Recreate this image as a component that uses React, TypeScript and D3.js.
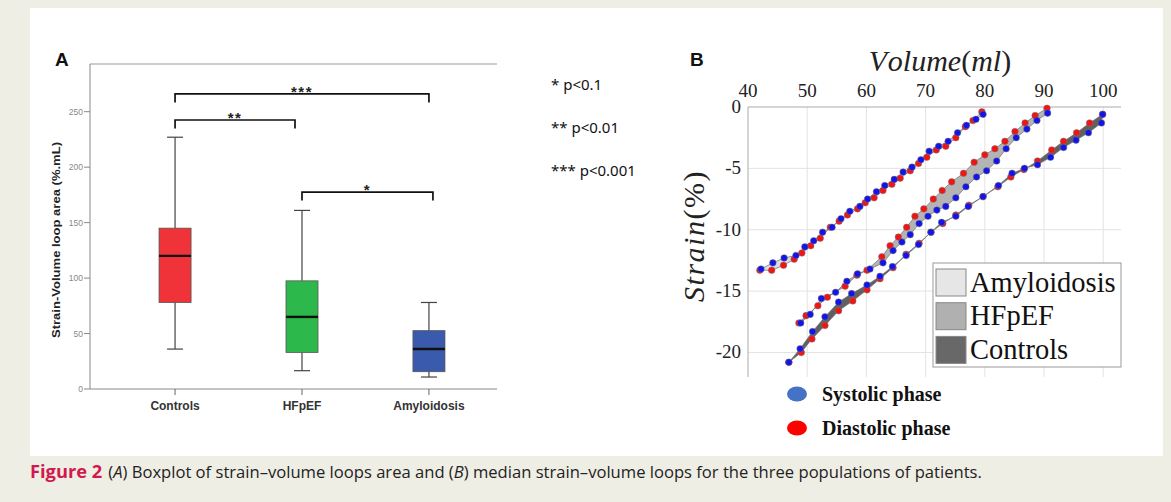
import React from 'react';
import * as d3 from 'd3';

// ---------- Panel A data ----------
const categories = ['Controls', 'HFpEF', 'Amyloidosis'];
const whiskerLow = [36, 16.5, 10.8];
const q1 = [78, 33, 15.6];
const medians = [120, 65, 36];
const q3 = [145, 97.5, 52.6];
const whiskerHigh = [227, 161, 78];
const boxColors = ['#ef3338', '#2db84b', '#3a5aad'];
const yTicksA = [0, 50, 100, 150, 200, 250];

const bracketFrom = ['Controls', 'Controls', 'HFpEF'];
const bracketTo = ['Amyloidosis', 'HFpEF', 'Amyloidosis'];
const bracketLevel = [266, 242.5, 177.5];
const bracketLabel = ['***', '**', '*'];
const bracketEndNudge = [0, -7, 4];
const pLegend = ['* p<0.1', '** p<0.01', '*** p<0.001'];

// ---------- Panel B data ----------
const volumeTicks = [40, 50, 60, 70, 80, 90, 100];
const strainTicks = [0, -5, -10, -15, -20];
const groups = ['Amyloidosis', 'HFpEF', 'Controls'];
const groupFills = ['#dedede', '#b4b4b4', '#606060'];
const legendFills = ['#e6e6e6', '#b0b0b0', '#686868'];

const amyloSysVol = [42.2, 44.2, 46.1, 48.1, 49.6, 51.1, 52.6, 54.2, 55.7, 57.2, 58.9, 60.2, 61.7, 63.1, 64.7, 66.2, 67.7, 69.2, 70.6, 72.2, 73.8, 75.4, 76.9, 78.5, 79.7];
const amyloSysStrain = [-13.2, -12.7, -12.3, -12.1, -11.4, -10.9, -10.2, -9.8, -9.1, -8.5, -8.1, -7.5, -6.9, -6.4, -5.9, -5.3, -4.9, -4.3, -3.6, -3.2, -2.8, -2.1, -1.5, -1.0, -0.6];
const amyloDiaVol = [42.0, 44.0, 46.0, 47.8, 49.1, 50.6, 52.2, 53.9, 55.4, 56.8, 58.5, 59.8, 61.3, 62.8, 64.3, 65.7, 67.4, 68.8, 70.2, 71.8, 73.4, 75.1, 76.7, 78.0, 79.5];
const amyloDiaStrain = [-13.3, -13.3, -12.9, -12.4, -11.9, -11.3, -10.7, -9.8, -9.3, -8.8, -8.3, -7.8, -7.4, -6.8, -6.3, -5.8, -5.2, -4.6, -4.1, -3.5, -3.2, -2.5, -1.6, -1.1, -0.4];

const hfSysVol = [48.9, 50.5, 52.4, 54.8, 56.7, 58.5, 60.6, 62.8, 64.5, 66.0, 67.4, 68.9, 70.4, 71.9, 73.4, 75.1, 76.8, 78.6, 80.3, 82.0, 83.6, 85.3, 87.1, 88.8, 90.6];
const hfSysStrain = [-17.6, -16.9, -15.6, -15.1, -14.2, -13.6, -13.2, -12.7, -11.7, -11.0, -10.4, -9.5, -8.9, -8.4, -8.1, -7.4, -6.5, -5.7, -5.2, -4.4, -3.4, -2.5, -1.8, -1.1, -0.5];
const hfDiaVol = [48.6, 49.8, 51.8, 53.4, 56.4, 58.4, 60.1, 62.6, 64.0, 65.4, 66.8, 68.2, 69.7, 71.3, 72.8, 74.4, 76.4, 78.2, 80.0, 81.7, 83.4, 85.1, 86.8, 88.5, 90.5];
const hfDiaStrain = [-17.6, -17.0, -16.2, -15.5, -14.6, -13.7, -13.3, -12.2, -11.3, -10.6, -9.8, -8.9, -8.3, -7.5, -6.8, -6.1, -5.4, -4.5, -3.9, -3.4, -2.8, -2.0, -1.3, -0.7, -0.1];

const ctrlSysVol = [46.9, 48.8, 50.9, 53.0, 55.3, 57.5, 60.1, 62.3, 64.4, 66.7, 68.8, 70.9, 72.7, 75.1, 77.2, 79.7, 82.3, 84.6, 86.7, 88.9, 91.1, 93.3, 95.4, 97.5, 99.7, 99.9];
const ctrlSysStrain = [-20.8, -19.7, -18.3, -17.1, -15.9, -15.2, -14.5, -13.8, -13.0, -12.1, -11.2, -10.2, -9.4, -8.9, -8.1, -7.3, -6.4, -5.4, -5.0, -4.7, -4.1, -3.3, -2.7, -2.1, -1.3, -0.6];
const ctrlDiaVol = [46.9, 49.0, 50.8, 53.0, 55.3, 57.7, 60.1, 62.3, 64.5, 66.7, 68.9, 70.9, 72.9, 75.1, 77.3, 79.7, 82.2, 84.4, 86.6, 88.9, 91.3, 93.3, 95.5, 97.7, 99.9];
const ctrlDiaStrain = [-20.8, -20.0, -18.9, -17.8, -16.6, -15.8, -14.9, -14.0, -13.1, -12.0, -11.1, -10.2, -9.5, -8.8, -8.0, -7.3, -6.5, -5.7, -5.1, -4.4, -3.5, -2.8, -2.1, -1.3, -0.6];

const phaseLabels = ['Systolic phase', 'Diastolic phase'];

type Pt = [number, number];
const zip = (v: number[], s: number[]): Pt[] => v.map((x, i) => [x, s[i]]);

const loops = [
  { name: 'Amyloidosis', sys: zip(amyloSysVol, amyloSysStrain), dia: zip(amyloDiaVol, amyloDiaStrain) },
  { name: 'HFpEF', sys: zip(hfSysVol, hfSysStrain), dia: zip(hfDiaVol, hfDiaStrain) },
  { name: 'Controls', sys: zip(ctrlSysVol, ctrlSysStrain), dia: zip(ctrlDiaVol, ctrlDiaStrain) },
];

export default function App() {
  // Panel A scales
  const xA = d3.scalePoint<string>().domain(categories).range([90, 514]).padding(0.67);
  const yA = d3.scaleLinear().domain([0, 293]).range([389, 64]);
  const boxW = 32;
  const sans = 'Liberation Sans, Arial, sans-serif';
  const serif = 'Liberation Serif, Times New Roman, serif';

  // Panel B scales
  const xB = d3.scaleLinear().domain([40, 103]).range([748, 1121]);
  const yB = d3.scaleLinear().domain([-22, 0]).range([377, 107]);
  const line = d3.line<Pt>().x((d) => xB(d[0])).y((d) => yB(d[1]));

  const blue = '#1414e8';
  const red = '#f21414';

  return (
    <svg width={1171} height={502} style={{ position: 'absolute', left: 0, top: 0 }}>
      <rect x={0} y={0} width={1171} height={502} fill="#efeee5" />
      <rect x={30} y={8} width={1133} height={448} fill="#ffffff" />

      {/* ---------------- Panel A ---------------- */}
      <text x={55} y={66} fontFamily={sans} fontWeight="bold" fontSize={19} fill="#111">A</text>
      <line x1={90} x2={497} y1={64} y2={64} stroke="#999" strokeWidth={1} />
      <line x1={90} x2={90} y1={64} y2={389} stroke="#888" strokeWidth={1} />
      <line x1={90} x2={497} y1={389} y2={389} stroke="#888" strokeWidth={1} />
      {yTicksA.map((t) => (
        <g key={t}>
          <line x1={84} x2={90} y1={yA(t)} y2={yA(t)} stroke="#888" />
          <text x={83} y={yA(t) + 3} textAnchor="end" fontFamily={sans} fontSize={8.5} fill="#888">{t}</text>
        </g>
      ))}
      <text
        transform={`translate(60,240) rotate(-90)`}
        textAnchor="middle"
        fontFamily={sans}
        fontWeight="bold"
        fontSize={11.5}
        fill="#222"
        textLength={196}
        lengthAdjust="spacingAndGlyphs"
      >
        Strain-Volume loop area (%.mL)
      </text>
      {categories.map((c, i) => {
        const cx = xA(c) as number;
        return (
          <g key={c}>
            <line x1={cx} x2={cx} y1={389} y2={395} stroke="#666" />
            <text x={cx} y={410} textAnchor="middle" fontFamily={sans} fontWeight="bold" fontSize={12} fill="#333">{c}</text>
            <line x1={cx} x2={cx} y1={yA(whiskerHigh[i])} y2={yA(q3[i])} stroke="#444" strokeWidth={1.2} />
            <line x1={cx} x2={cx} y1={yA(q1[i])} y2={yA(whiskerLow[i])} stroke="#444" strokeWidth={1.2} />
            <line x1={cx - 8} x2={cx + 8} y1={yA(whiskerHigh[i])} y2={yA(whiskerHigh[i])} stroke="#444" strokeWidth={1.2} />
            <line x1={cx - 8} x2={cx + 8} y1={yA(whiskerLow[i])} y2={yA(whiskerLow[i])} stroke="#444" strokeWidth={1.2} />
            <rect x={cx - boxW / 2} y={yA(q3[i])} width={boxW} height={yA(q1[i]) - yA(q3[i])} fill={boxColors[i]} stroke="#555" strokeWidth={0.8} />
            <line x1={cx - boxW / 2} x2={cx + boxW / 2} y1={yA(medians[i])} y2={yA(medians[i])} stroke="#111" strokeWidth={2.4} />
          </g>
        );
      })}
      {bracketLabel.map((lab, i) => {
        const x1 = xA(bracketFrom[i]) as number;
        const x2 = (xA(bracketTo[i]) as number) + bracketEndNudge[i];
        const y = yA(bracketLevel[i]);
        return (
          <g key={lab}>
            <path d={`M${x1},${y + 8.5}V${y}H${x2}V${y + 8.5}`} fill="none" stroke="#111" strokeWidth={1.7} />
            <text x={(x1 + x2) / 2} y={y + 3} textAnchor="middle" fontFamily={sans} fontWeight="bold" fontSize={15} letterSpacing={1.5} fill="#222">{lab}</text>
          </g>
        );
      })}
      {pLegend.map((t, i) => (
        <text key={t} x={551} y={90 + i * 43} fontFamily="Noto Sans, sans-serif" fontSize={15} fill="#111">{t}</text>
      ))}

      {/* ---------------- Panel B ---------------- */}
      <text x={690} y={66} fontFamily={sans} fontWeight="bold" fontSize={19} fill="#111">B</text>
      {volumeTicks.filter((t) => t > 40).map((t) => (
        <line key={'gx' + t} x1={xB(t)} x2={xB(t)} y1={107} y2={377} stroke="#e3e3e3" strokeWidth={1} />
      ))}
      {strainTicks.filter((t) => t < 0).map((t) => (
        <line key={'gy' + t} x1={748} x2={1121} y1={yB(t)} y2={yB(t)} stroke="#e3e3e3" strokeWidth={1} />
      ))}
      <line x1={748} x2={1121} y1={107} y2={107} stroke="#aaa" />
      <line x1={748} x2={748} y1={107} y2={377} stroke="#aaa" />
      {volumeTicks.map((t) => (
        <text key={'tx' + t} x={xB(t)} y={97} textAnchor="middle" fontFamily={serif} fontSize={19} fill="#222">{t}</text>
      ))}
      {strainTicks.map((t) => (
        <text key={'ty' + t} x={741} y={yB(t) + 6} textAnchor="end" fontFamily={serif} fontSize={19} fill="#222">{t}</text>
      ))}
      <text x={940} y={71} textAnchor="middle" fontFamily={serif} fontSize={30} fill="#222">
        <tspan fontStyle="italic">V</tspan>
        <tspan dx={4} fontStyle="italic">olume</tspan>
        <tspan>(</tspan>
        <tspan fontStyle="italic">ml</tspan>
        <tspan>)</tspan>
      </text>
      <text transform="translate(704,236) rotate(-90)" textAnchor="middle" fontFamily={serif} fontSize={30} fill="#222" letterSpacing={1.5}>
        <tspan fontStyle="italic">Strain</tspan>
        <tspan>(%)</tspan>
      </text>

      {loops.map((lp, i) => (
        <path
          key={'fill' + lp.name}
          d={(line([...lp.sys, ...lp.dia.slice().reverse()]) as string) + 'Z'}
          fill={groupFills[i]}
          stroke="#7a7a7a"
          strokeWidth={0.8}
        />
      ))}
      {loops.map((lp) =>
        lp.dia.map((d, j) => (
          <circle key={'d' + lp.name + j} cx={xB(d[0])} cy={yB(d[1])} r={3.3} fill={red} stroke="#777" strokeWidth={0.5} />
        ))
      )}
      {loops.map((lp) =>
        lp.sys.map((d, j) => (
          <circle key={'s' + lp.name + j} cx={xB(d[0])} cy={yB(d[1])} r={3.3} fill={blue} stroke="#777" strokeWidth={0.5} />
        ))
      )}

      {/* legend */}
      <rect x={933} y={263} width={188} height={104} fill="#fff" stroke="#999" strokeWidth={1} />
      {groups.map((g, i) => (
        <g key={'lg' + g}>
          <rect x={936} y={269 + i * 33.7} width={30} height={27} fill={legendFills[i]} stroke="#888" strokeWidth={1} />
          <text x={970} y={291.5 + i * 33.5} fontFamily={serif} fontSize={28.5} fill="#111">{g}</text>
        </g>
      ))}

      {phaseLabels.map((p, i) => (
        <g key={p}>
          <ellipse cx={797} cy={394 + i * 34} rx={10} ry={7.5} fill={i === 0 ? '#4472c4' : '#ff0000'} />
          <text x={822} y={400.5 + i * 34} fontFamily={serif} fontWeight="bold" fontSize={20} fill="#111">{p}</text>
        </g>
      ))}

      {/* caption */}
      <text x={30} y={477.5} fontFamily="Open Sans, sans-serif" fontSize={16.6} fill="#222">
        <tspan fontWeight="bold" fontSize={18.3} fill="#d2194f">Figure 2</tspan>
        <tspan dx={6}>(</tspan>
        <tspan fontStyle="italic">A</tspan>
        <tspan>) Boxplot of strain–volume loops area and (</tspan>
        <tspan fontStyle="italic">B</tspan>
        <tspan>) median strain–volume loops for the three populations of patients.</tspan>
      </text>
    </svg>
  );
}
